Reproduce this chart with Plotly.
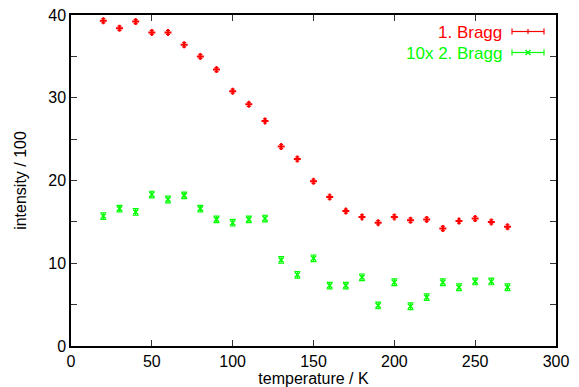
import plotly.graph_objects as go

temperature = [20, 30, 40, 50, 60, 70, 80, 90, 100, 110, 120, 130, 140,
               150, 160, 170, 180, 190, 200, 210, 220, 230, 240, 250, 260, 270]
bragg1 = [39.3, 38.4, 39.2, 37.9, 37.9, 36.4, 35.0, 33.4, 30.8, 29.2, 27.2, 24.1, 22.6,
          19.9, 18.0, 16.3, 15.6, 14.9, 15.6, 15.2, 15.3, 14.2, 15.1, 15.4, 15.0, 14.4]
bragg1_err = [0.25] * 26
bragg2x10 = [15.7, 16.6, 16.2, 18.3, 17.7, 18.2, 16.6, 15.3, 14.9, 15.3, 15.4, 10.4, 8.6,
             10.6, 7.3, 7.3, 8.3, 4.9, 7.7, 4.8, 5.9, 7.7, 7.1, 7.8, 7.8, 7.1]
bragg2_err = [0.4] * 26

x_ticks = [0, 50, 100, 150, 200, 250, 300]
y_ticks = [0, 5, 10, 15, 20, 25, 30, 35, 40]
y_ticktext = ["0", "", "10", "", "20", "", "30", "", "40"]

RED = "#ff0000"
GREEN = "#00ff00"
FONT = "Liberation Sans, Arial, sans-serif"
FS = 16

fig = go.Figure()
fig.add_trace(go.Scatter(
    x=temperature, y=bragg1, mode="markers", name="1. Bragg",
    marker=dict(symbol="cross-thin", size=5, line=dict(width=2, color=RED), color=RED),
    error_y=dict(type="data", array=bragg1_err, visible=True, color=RED, thickness=1.2, width=2),
))
fig.add_trace(go.Scatter(
    x=temperature, y=bragg2x10, mode="markers", name="10x 2. Bragg",
    marker=dict(symbol="x-thin", size=5, line=dict(width=1.5, color=GREEN), color=GREEN),
    error_y=dict(type="data", array=bragg2_err, visible=True, color=GREEN, thickness=1.2, width=3),
))

axis_common = dict(
    showline=True, linecolor="black", linewidth=1.5, mirror="ticks",
    ticks="inside", ticklen=6, tickcolor="#333333", tickwidth=1,
    showgrid=False, zeroline=False, ticklabeloverflow="allow",
    tickfont=dict(family=FONT, size=FS, color="black"),
)
fig.update_xaxes(range=[0, 300], tickvals=x_ticks, automargin=False,
                 title=dict(text="temperature / K", font=dict(family=FONT, size=FS, color="black"), standoff=2),
                 **axis_common)
fig.update_yaxes(range=[0, 40], tickvals=y_ticks, ticktext=y_ticktext, automargin=False,
                 title=dict(text="intensity / 100", font=dict(family=FONT, size=FS, color="black"), standoff=18),
                 **axis_common)

# page body has an 8px margin; figure coords = screen coords - 8
OFF = 8
def py(p):
    return (346 - p) / 331.0
def px(p):
    return (p - 71) / 485.0

rows = [("1. Bragg", RED, 31.5, "plus"), ("10x 2. Bragg", GREEN, 52.5, "x")]
for label, col, ypix, kind in rows:
    fig.add_annotation(x=px(504), y=py(ypix + 1), xref="paper", yref="paper",
                       text=label, showarrow=False, xanchor="right", yanchor="middle",
                       font=dict(family=FONT, size=FS + 1, color=col))
    yy = py(ypix)
    fig.add_shape(type="line", xref="paper", yref="paper", x0=px(512), x1=px(544), y0=yy, y1=yy,
                  line=dict(color=col, width=1.2))
    for xe in (512, 544):
        fig.add_shape(type="line", xref="paper", yref="paper", x0=px(xe), x1=px(xe),
                      y0=py(ypix - 3), y1=py(ypix + 3), line=dict(color=col, width=1.2))
    if kind == "plus":
        fig.add_shape(type="line", xref="paper", yref="paper", x0=px(528), x1=px(528),
                      y0=py(ypix - 2.5), y1=py(ypix + 2.5), line=dict(color=col, width=1.2))
    else:
        fig.add_shape(type="line", xref="paper", yref="paper", x0=px(525.5), x1=px(530.5),
                      y0=py(ypix - 2.5), y1=py(ypix + 2.5), line=dict(color=col, width=1.2))
        fig.add_shape(type="line", xref="paper", yref="paper", x0=px(525.5), x1=px(530.5),
                      y0=py(ypix + 2.5), y1=py(ypix - 2.5), line=dict(color=col, width=1.2))

fig.update_layout(
    width=579 - OFF, height=387 - OFF,
    margin=dict(l=71 - OFF, r=23, t=15 - OFF, b=41, pad=0),
    paper_bgcolor="white", plot_bgcolor="white",
    showlegend=False,
    font=dict(family=FONT, size=FS, color="black"),
)

fig.write_html("out.html")
